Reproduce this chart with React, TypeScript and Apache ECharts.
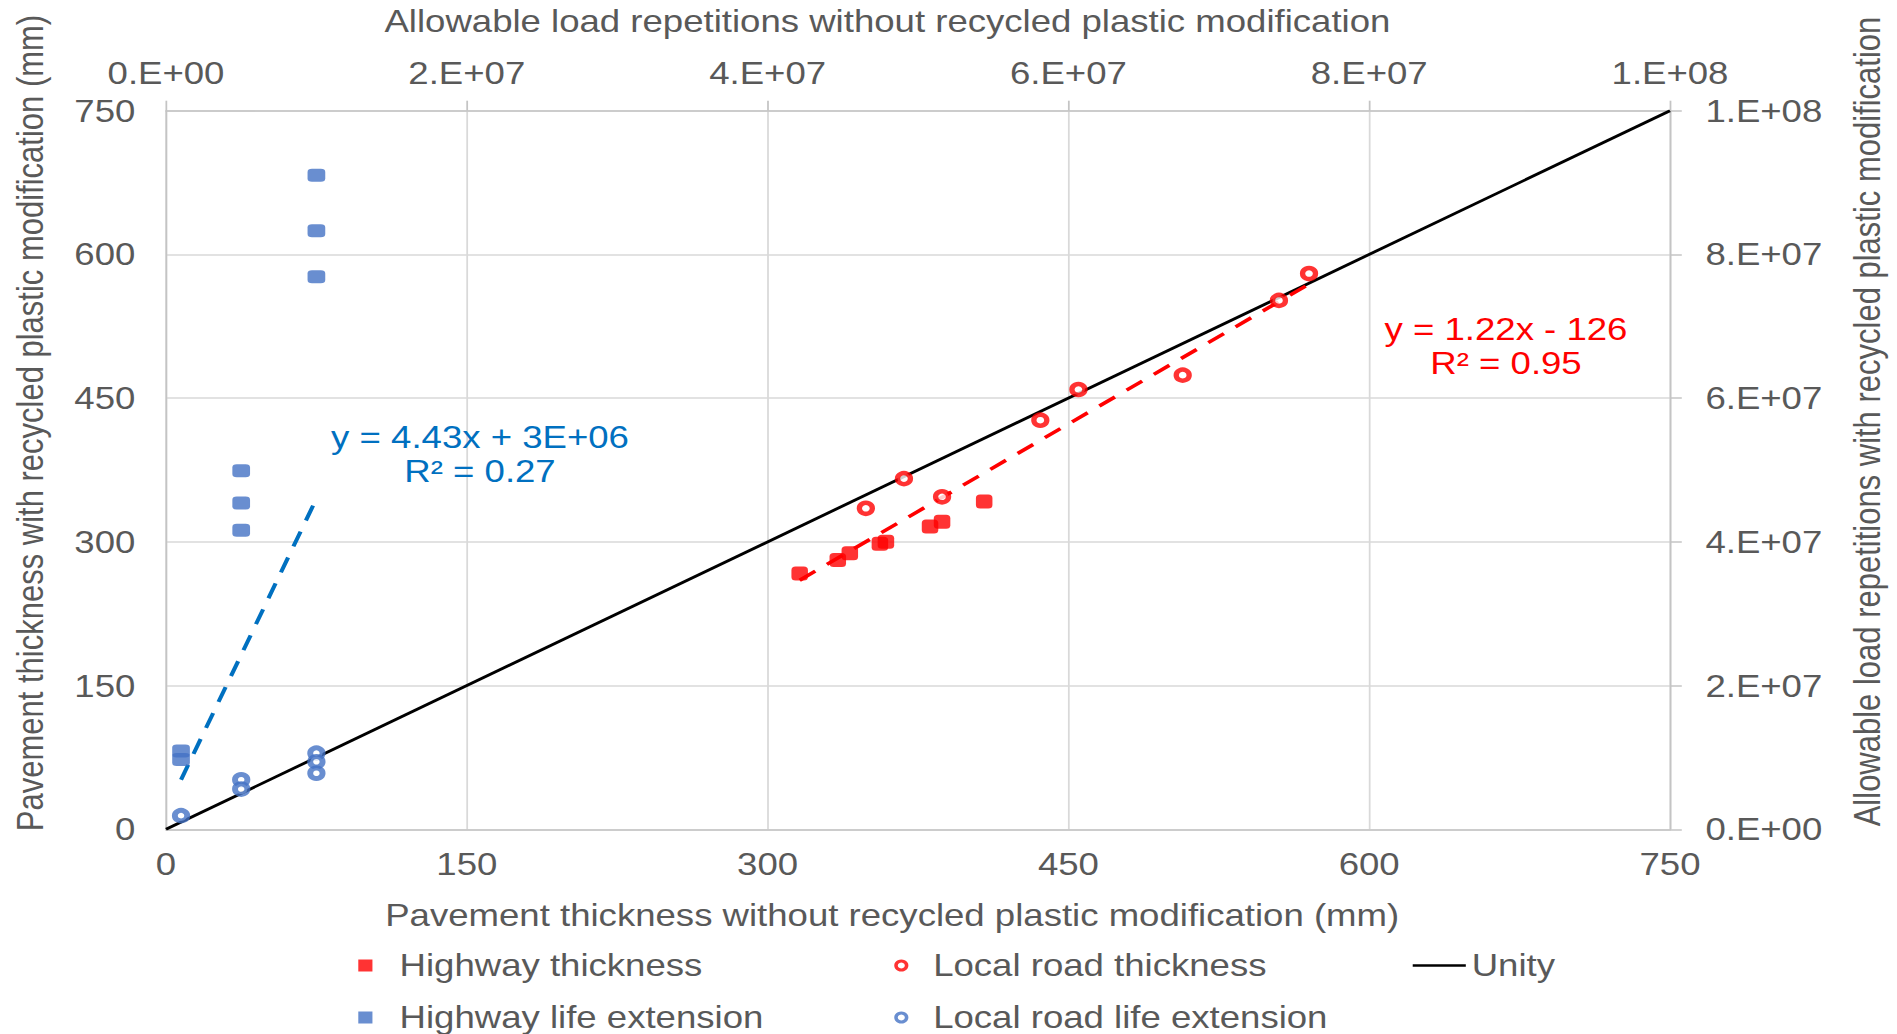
import React, { useEffect, useRef } from "react";
import * as echarts from "echarts";

// ---- data (primary axes: mm; secondary axes: load repetitions) ----
const thicknessTicks = [0, 150, 300, 450, 600, 750];
const repetitionTickLabels = ["0.E+00", "2.E+07", "4.E+07", "6.E+07", "8.E+07", "1.E+08"];

const highwayThicknessX = [316, 335, 341, 356, 359, 381, 387, 408];
const highwayThicknessY = [267, 281, 288, 298, 300, 316, 321, 342];

const localThicknessX = [349, 368, 387, 436, 455, 507, 555, 570];
const localThicknessY = [335, 366, 347, 427, 459, 474, 552, 580];

const highwayLifeX = [1e6, 1e6, 5e6, 5e6, 5e6, 1e7, 1e7, 1e7];
const highwayLifeY = [1.09e7, 9.7e6, 4.99e7, 4.54e7, 4.16e7, 9.1e7, 8.33e7, 7.69e7];

const localLifeX = [1e6, 5e6, 5e6, 1e7, 1e7, 1e7];
const localLifeY = [1.9e6, 6.9e6, 5.6e6, 1.06e7, 9.4e6, 7.8e6];

const unityX = [0, 750];
const unityY = [0, 750];

const thicknessTrendX = [316, 570];
const thicknessTrendY = [260, 569];

const lifeTrendX = [1e6, 1e7];
const lifeTrendY = [6.9e6, 4.6e7];

const thicknessEquation = "y = 1.22x - 126\nR² = 0.95";
const lifeEquation = "y = 4.43x + 3E+06\nR² = 0.27";

// ---- layout ----
const W0 = 1608;
const H0 = 1034;
const S = 1897 / W0; // horizontal stretch of the original picture
const ux = (v: number) => v / S;
const FF = "'Liberation Sans', Arial, sans-serif";
const GRAY = "#595959";

const zip = (xs: number[], ys: number[]) => xs.map((x, i) => [x, ys[i]]);

export default function App() {
  const ref = useRef<HTMLDivElement>(null);

  useEffect(() => {
    document.body.style.margin = "0";
    document.body.style.overflow = "hidden";
    const chart = echarts.init(ref.current!, null, { renderer: "svg" });

    const labelStyle = { fontSize: 31, color: GRAY, fontFamily: FF };
    const gridLine = { show: true, lineStyle: { color: "#d9d9d9", width: 1.5 } };
    const axisLine = { show: true, onZero: false, lineStyle: { color: "#c4c4c4", width: 1.5 } };
    const repFormatter = (v: number) => repetitionTickLabels[Math.round(v / 2e7)] ?? "";
    const legendText = { fontSize: 31, color: GRAY, fontFamily: FF };
    const squareIcon = "path://M0 0H10V10H0Z";

    const titleStyle = (text: string) => ({
      text,
      fill: GRAY,
      fontSize: 31,
      fontFamily: FF,
      align: "center",
      verticalAlign: "middle",
      textAlign: "center",
      textVerticalAlign: "middle",
    });

    const option: any = {
      animation: false,
      backgroundColor: "#ffffff",
      grid: { left: ux(166), top: 110.7, width: ux(1670) - ux(166), height: 718.6 },
      xAxis: [
        {
          type: "value",
          position: "bottom",
          min: 0,
          max: 750,
          interval: 150,
          axisLine,
          axisTick: { show: false },
          axisLabel: { ...labelStyle, margin: 19 },
          splitLine: gridLine,
        },
        {
          type: "value",
          position: "top",
          min: 0,
          max: 1e8,
          interval: 2e7,
          axisLine,
          axisTick: { show: true, inside: false, length: 10, lineStyle: { color: "#c4c4c4", width: 1.5 } },
          axisLabel: { ...labelStyle, margin: 22, formatter: repFormatter },
          splitLine: { show: false },
        },
      ],
      yAxis: [
        {
          type: "value",
          position: "left",
          min: 0,
          max: 750,
          interval: 150,
          axisLine,
          axisTick: { show: false },
          axisLabel: { ...labelStyle, margin: 26, formatter: (v: number) => String(thicknessTicks[Math.round(v / 150)]) },
          splitLine: gridLine,
        },
        {
          type: "value",
          position: "right",
          min: 0,
          max: 1e8,
          interval: 2e7,
          axisLine,
          axisTick: { show: true, inside: false, length: 10, lineStyle: { color: "#c4c4c4", width: 1.5 } },
          axisLabel: { ...labelStyle, margin: 30, formatter: repFormatter },
          splitLine: { show: false },
        },
      ],
      legend: [
        {
          data: [{ name: "Highway thickness", icon: squareIcon }],
          left: 303.7, top: 950, itemWidth: 48, itemHeight: 12, padding: 0,
          selectedMode: false, textStyle: legendText,
        },
        {
          data: [{ name: "Local road thickness", icon: "circle", itemStyle: { color: "#ffffff", borderColor: "#ff0000", borderWidth: 3 } }],
          left: 758, top: 950, itemWidth: 44, itemHeight: 9, padding: 0,
          selectedMode: false, textStyle: legendText,
        },
        {
          data: [{ name: "Unity", icon: "rect", itemStyle: { color: "#000000", borderWidth: 0 } }],
          left: 1197.5, top: 950, itemWidth: 45, itemHeight: 2.6, padding: 0,
          selectedMode: false, textStyle: legendText,
        },
        {
          data: [{ name: "Highway life extension", icon: squareIcon }],
          left: 303.7, top: 1002, itemWidth: 48, itemHeight: 12, padding: 0,
          selectedMode: false, textStyle: legendText,
        },
        {
          data: [{ name: "Local road life extension", icon: "circle", itemStyle: { color: "#ffffff", borderColor: "#4472C4", borderWidth: 3 } }],
          left: 758, top: 1002, itemWidth: 44, itemHeight: 9, padding: 0,
          selectedMode: false, textStyle: legendText,
        },
      ],
      series: [
        {
          name: "Unity",
          type: "line",
          xAxisIndex: 0,
          yAxisIndex: 0,
          data: zip(unityX, unityY),
          symbol: "none",
          showSymbol: false,
          itemStyle: { color: "#000000" },
          lineStyle: { color: "#000000", width: 2.8 },
          silent: true,
          z: 2,
        },
        {
          name: "Thickness trend",
          type: "line",
          xAxisIndex: 0,
          yAxisIndex: 0,
          data: zip(thicknessTrendX, thicknessTrendY),
          symbol: "none",
          lineStyle: { color: "#ff0000", width: 3.5, type: [16, 12] },
          silent: true,
          z: 2,
        },
        {
          name: "Life trend",
          type: "line",
          xAxisIndex: 1,
          yAxisIndex: 1,
          data: zip(lifeTrendX, lifeTrendY),
          symbol: "none",
          lineStyle: { color: "#0070C0", width: 3.5, type: [16, 12] },
          silent: true,
          z: 2,
        },
        {
          name: "Highway thickness",
          type: "scatter",
          xAxisIndex: 0,
          yAxisIndex: 0,
          data: zip(highwayThicknessX, highwayThicknessY),
          symbol: "roundRect",
          symbolSize: [14, 14],
          itemStyle: { color: "#ff0000" },
          z: 4,
        },
        {
          name: "Local road thickness",
          type: "scatter",
          xAxisIndex: 0,
          yAxisIndex: 0,
          data: zip(localThicknessX, localThicknessY),
          symbol: "circle",
          symbolSize: 11,
          itemStyle: { color: "#ffffff", borderColor: "#ff0000", borderWidth: 4.5 },
          z: 4,
        },
        {
          name: "Highway life extension",
          type: "scatter",
          xAxisIndex: 1,
          yAxisIndex: 1,
          data: zip(highwayLifeX, highwayLifeY),
          symbol: "roundRect",
          symbolSize: [15, 13],
          itemStyle: { color: "#4472C4" },
          z: 4,
        },
        {
          name: "Local road life extension",
          type: "scatter",
          xAxisIndex: 1,
          yAxisIndex: 1,
          data: zip(localLifeX, localLifeY),
          symbol: "circle",
          symbolSize: 10.5,
          itemStyle: { color: "#ffffff", borderColor: "#4472C4", borderWidth: 5 },
          z: 4,
        },
      ],
      graphic: [
        { type: "text", x: ux(887.4), y: 20.6, style: titleStyle("Allowable load repetitions without recycled plastic modification") },
        { type: "text", x: ux(892.2), y: 914.6, style: titleStyle("Pavement thickness without recycled plastic modification (mm)") },
        { type: "text", x: ux(30), y: 423, rotation: Math.PI / 2, style: titleStyle("Pavement thickness with recycled plastic modification (mm)") },
        { type: "text", x: ux(1866.7), y: 421.5, rotation: Math.PI / 2, style: titleStyle("Allowable load repetitions with recycled plastic modification") },
        {
          type: "text",
          x: ux(1506),
          y: 346,
          z: 10,
          style: { ...titleStyle(thicknessEquation), fill: "#ff0000", lineHeight: 34 },
        },
        {
          type: "text",
          x: ux(480),
          y: 453.6,
          z: 10,
          style: { ...titleStyle(lifeEquation), fill: "#0070C0", lineHeight: 34 },
        },
      ],
    };

    chart.setOption(option);
    return () => chart.dispose();
  }, []);

  return (
    <div
      ref={ref}
      style={{ width: W0, height: H0, transform: `scaleX(${S})`, transformOrigin: "0 0" }}
    />
  );
}
